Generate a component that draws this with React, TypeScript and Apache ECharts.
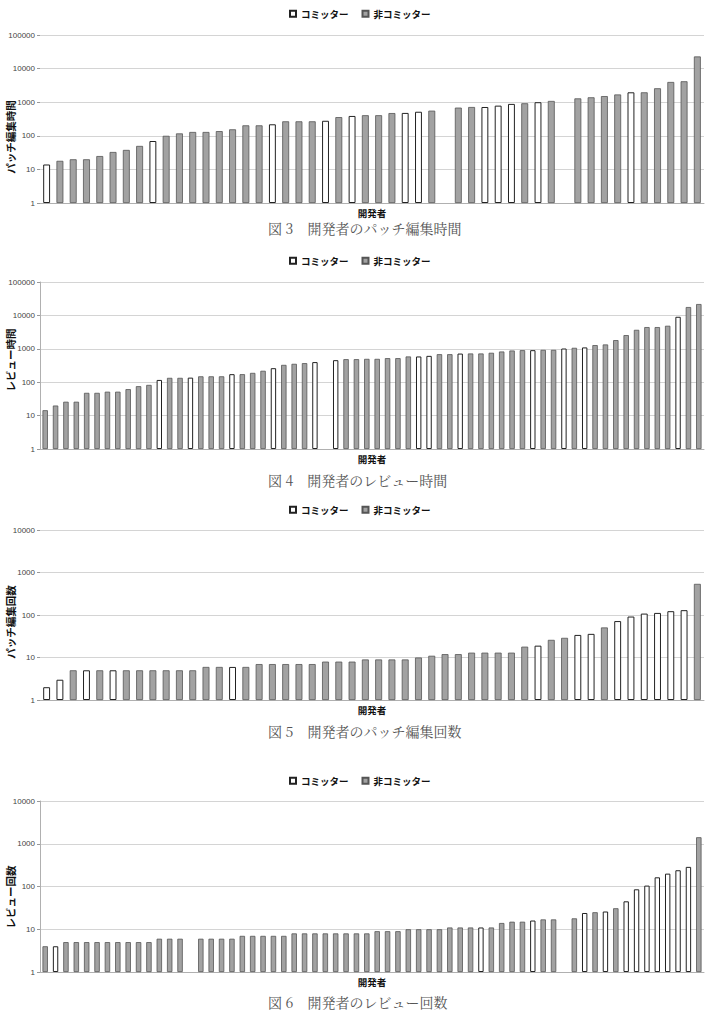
import React, { useEffect, useRef } from "react";
import * as echarts from "echarts";

// Each developer is one category; role "c" = committer, "n" = non-committer, "-" = no bar.

// 図3 パッチ編集時間
const editTimeValues = [
  14, 18, 20, 20, 25, 33, 38, 50, 70, 100,
  118, 130, 130, 138, 156, 205, 205, 220, 270, 270,
  270, 280, 360, 390, 410, 410, 475, 480, 520, 560,
  null, 690, 720, 720, 790, 890, 930, 1000, 1090, null,
  1300, 1400, 1520, 1700, 1970, 1970, 2600, 4000, 4200, 23000,
];
const editTimeRoles = [
  "c", "n", "n", "n", "n", "n", "n", "n", "c", "n",
  "n", "n", "n", "n", "n", "n", "n", "c", "n", "n",
  "n", "c", "n", "c", "n", "n", "n", "c", "c", "n",
  "-", "n", "n", "c", "c", "c", "n", "c", "n", "-",
  "n", "n", "n", "n", "c", "n", "n", "n", "n", "n",
];

// 図4 レビュー時間
const reviewTimeValues = [
  14.5, 20, 26, 26, 48, 48, 52, 52, 62, 76,
  83, 117, 135, 135, 137, 150, 150, 150, 174, 174,
  190, 220, 263, 330, 355, 372, 400, null, 457, 490,
  490, 500, 500, 525, 525, 590, 590, 615, 690, 690,
  720, 725, 725, 760, 830, 890, 910, 910, 930, 930,
  1020, 1070, 1100, 1290, 1350, 1820, 2570, 3700, 4470, 4470,
  4900, 9100, 17800, 21900,
];
const reviewTimeRoles = [
  "n", "n", "n", "n", "n", "n", "n", "n", "n", "n",
  "n", "c", "n", "n", "c", "n", "n", "n", "c", "n",
  "n", "n", "c", "n", "n", "n", "c", "-", "c", "n",
  "n", "n", "n", "n", "n", "n", "c", "c", "n", "n",
  "c", "n", "n", "n", "n", "n", "n", "c", "n", "n",
  "c", "n", "c", "n", "n", "n", "n", "n", "n", "n",
  "n", "c", "n", "n",
];

// 図5 パッチ編集回数
const editCountValues = [
  2, 3, 5, 5, 5, 5, 5, 5, 5, 5,
  5, 5, 6, 6, 6, 6, 7, 7, 7, 7,
  7, 8, 8, 8, 9, 9, 9, 9, 10, 11,
  12, 12, 13, 13, 13, 13, 18, 19, 26, 29,
  34, 36, 51, 72, 92, 108, 112, 123, 130, 540,
];
const editCountRoles = [
  "c", "c", "n", "c", "n", "c", "n", "n", "n", "n",
  "n", "n", "n", "n", "c", "n", "n", "n", "n", "n",
  "n", "n", "n", "n", "n", "n", "n", "n", "n", "n",
  "n", "n", "n", "n", "n", "n", "n", "c", "n", "n",
  "c", "c", "n", "c", "c", "c", "c", "c", "c", "n",
];

// 図6 レビュー回数
const reviewCountValues = [
  4, 4, 5, 5, 5, 5, 5, 5, 5, 5,
  5, 6, 6, 6, null, 6, 6, 6, 6, 7,
  7, 7, 7, 7, 8, 8, 8, 8, 8, 8,
  8, 8, 9, 9, 9, 10, 10, 10, 10, 11,
  11, 11, 11, 11, 14, 15, 15, 16, 17, 17,
  null, 18, 24, 25, 26, 31, 45, 86, 105, 164,
  200, 240, 288, 1420,
];
const reviewCountRoles = [
  "n", "c", "n", "n", "n", "n", "n", "n", "n", "n",
  "n", "n", "n", "n", "-", "n", "n", "n", "n", "n",
  "n", "n", "n", "n", "n", "n", "n", "n", "n", "n",
  "n", "n", "n", "n", "n", "n", "n", "n", "n", "n",
  "n", "n", "c", "n", "n", "n", "n", "c", "n", "n",
  "-", "n", "c", "n", "c", "n", "c", "c", "c", "c",
  "c", "c", "c", "n",
];

const yAxisNames = ["パッチ編集時間", "レビュー時間", "パッチ編集回数", "レビュー回数"];
const captions = [
  "図 3　開発者のパッチ編集時間",
  "図 4　開発者のレビュー時間",
  "図 5　開発者のパッチ編集回数",
  "図 6　開発者のレビュー回数",
];
const yMaxima = [100000, 100000, 10000, 10000];
const seriesNames = ["コミッター", "非コミッター"];
const xAxisName = "開発者";

const JP = '"Noto Sans CJK JP", "Noto Sans", sans-serif';
const LATIN = '"Liberation Sans", Arial, sans-serif';

// vertical placement of each panel
const layout = [
  { top: 35, height: 168, legendTop: 9, yNameY: 137, captionY: 228, yLine: false },
  { top: 282, height: 167, legendTop: 256, yNameY: 360, captionY: 480, yLine: true },
  { top: 530, height: 170, legendTop: 505, yNameY: 622, captionY: 731, yLine: false },
  { top: 801, height: 171, legendTop: 776, yNameY: 897, captionY: 1002, yLine: true },
];

const panels = [
  { values: editTimeValues, roles: editTimeRoles },
  { values: reviewTimeValues, roles: reviewTimeRoles },
  { values: editCountValues, roles: editCountRoles },
  { values: reviewCountValues, roles: reviewCountRoles },
];

function buildOption() {
  const grid = layout.map((l) => ({ left: 40, right: 3, top: l.top, height: l.height }));

  const xAxis = panels.map((p, i) => ({
    type: "category",
    gridIndex: i,
    data: p.values.map((_, j) => String(j + 1)),
    axisLabel: { show: false },
    axisTick: { show: false },
    axisLine: { lineStyle: { color: "#b0b0b0", width: 1 } },
    name: xAxisName,
    nameLocation: "middle",
    nameGap: 5,
    nameTextStyle: { fontSize: 9.5, fontWeight: "bold", color: "#111", fontFamily: JP },
  }));

  const yAxis = panels.map((_, i) => ({
    type: "log",
    logBase: 10,
    gridIndex: i,
    min: 1,
    max: yMaxima[i],
    axisLabel: {
      fontSize: 8,
      color: "#444",
      margin: 5,
      fontFamily: LATIN,
      formatter: (v: number) => String(Math.round(v)),
    },
    axisTick: { show: true, length: 3, lineStyle: { color: "#999" } },
    axisLine: { show: layout[i].yLine, lineStyle: { color: "#b0b0b0" } },
    splitLine: { show: true, lineStyle: { color: "#d4d4d4", width: 1 } },
  }));

  const series: any[] = [];
  panels.forEach((p, i) => {
    series.push({
      type: "bar",
      name: seriesNames[0],
      xAxisIndex: i,
      yAxisIndex: i,
      barWidth: "52%",
      barGap: "-100%",
      data: p.values.map((v, j) => (p.roles[j] === "c" && v != null ? v : "-")),
      itemStyle: { color: "#ffffff", borderColor: "#222222", borderWidth: 1 },
    });
    series.push({
      type: "bar",
      name: seriesNames[1],
      xAxisIndex: i,
      yAxisIndex: i,
      barWidth: "52%",
      barGap: "-100%",
      data: p.values.map((v, j) => (p.roles[j] === "n" && v != null ? v : "-")),
      itemStyle: { color: "#a2a2a2", borderColor: "#555555", borderWidth: 0.8 },
    });
  });

  const legend = layout.map((l) => ({
    top: l.legendTop,
    left: 289,
    padding: 0,
    icon: "rect",
    data: seriesNames,
    itemWidth: 6,
    itemHeight: 6,
    itemGap: 13,
    selectedMode: false,
    textStyle: { fontSize: 9.5, fontWeight: "bold", color: "#111", fontFamily: JP },
  }));

  const graphic: any[] = [];
  layout.forEach((l, i) => {
    graphic.push({
      type: "text",
      x: 10,
      y: l.yNameY,
      rotation: Math.PI / 2,
      style: {
        text: yAxisNames[i],
        fontSize: 10.5,
        fontWeight: "bold",
        fontFamily: JP,
        fill: "#111",
        align: "center",
        verticalAlign: "middle",
        textAlign: "center",
        textVerticalAlign: "middle",
      },
    });
    graphic.push({
      type: "text",
      x: 268,
      y: l.captionY,
      style: {
        text: captions[i],
        fontSize: 14,
        fontFamily: '"Noto Serif CJK JP", ' + JP,
        fill: "#555",
        align: "left",
        verticalAlign: "middle",
        textAlign: "left",
        textVerticalAlign: "middle",
      },
    });
  });

  return {
    animation: false,
    backgroundColor: "#ffffff",
    grid,
    xAxis,
    yAxis,
    series,
    legend,
    graphic,
  };
}

export default function App() {
  const ref = useRef<HTMLDivElement>(null);

  useEffect(() => {
    document.body.style.margin = "0";
    if (!ref.current) return;
    const chart = echarts.init(ref.current, undefined, { renderer: "svg" });
    chart.setOption(buildOption() as any);
    return () => chart.dispose();
  }, []);

  return <div ref={ref} style={{ width: 707, height: 1016 }} />;
}
